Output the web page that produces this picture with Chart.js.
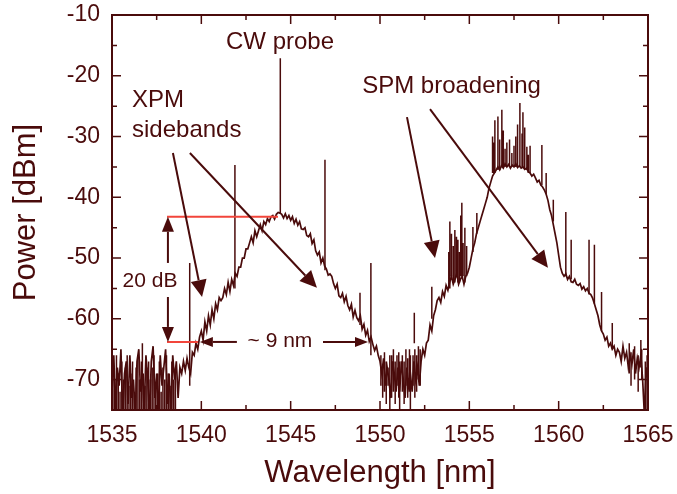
<!DOCTYPE html>
<html>
<head>
<meta charset="utf-8">
<script src="https://cdn.jsdelivr.net/npm/chart.js@4.4.0/dist/chart.umd.min.js"></script>
<style>
  body { margin: 0; background: #fff; }
  #wrap { width: 677px; height: 494px; }
</style>
</head>
<body>
<div id="wrap"><canvas id="myChart"></canvas></div>
<script>
// spectrum, every 0.1 nm
var wavelength = [
  1535.0, 1535.1, 1535.2, 1535.3, 1535.4, 1535.5, 1535.6, 1535.7, 1535.8, 1535.9,
  1536.0, 1536.1, 1536.2, 1536.3, 1536.4, 1536.5, 1536.6, 1536.7, 1536.8, 1536.9,
  1537.0, 1537.1, 1537.2, 1537.3, 1537.4, 1537.5, 1537.6, 1537.7, 1537.8, 1537.9,
  1538.0, 1538.1, 1538.2, 1538.3, 1538.4, 1538.5, 1538.6, 1538.7, 1538.8, 1538.9,
  1539.0, 1539.1, 1539.2, 1539.3, 1539.4, 1539.5, 1539.6, 1539.7, 1539.8, 1539.9,
  1540.0, 1540.1, 1540.2, 1540.3, 1540.4, 1540.5, 1540.6, 1540.7, 1540.8, 1540.9,
  1541.0, 1541.1, 1541.2, 1541.3, 1541.4, 1541.5, 1541.6, 1541.7, 1541.8, 1541.9,
  1542.0, 1542.1, 1542.2, 1542.3, 1542.4, 1542.5, 1542.6, 1542.7, 1542.8, 1542.9,
  1543.0, 1543.1, 1543.2, 1543.3, 1543.4, 1543.5, 1543.6, 1543.7, 1543.8, 1543.9,
  1544.0, 1544.1, 1544.2, 1544.3, 1544.4, 1544.5, 1544.6, 1544.7, 1544.8, 1544.9,
  1545.0, 1545.1, 1545.2, 1545.3, 1545.4, 1545.5, 1545.6, 1545.7, 1545.8, 1545.9,
  1546.0, 1546.1, 1546.2, 1546.3, 1546.4, 1546.5, 1546.6, 1546.7, 1546.8, 1546.9,
  1547.0, 1547.1, 1547.2, 1547.3, 1547.4, 1547.5, 1547.6, 1547.7, 1547.8, 1547.9,
  1548.0, 1548.1, 1548.2, 1548.3, 1548.4, 1548.5, 1548.6, 1548.7, 1548.8, 1548.9,
  1549.0, 1549.1, 1549.2, 1549.3, 1549.4, 1549.5, 1549.6, 1549.7, 1549.8, 1549.9,
  1550.0, 1550.1, 1550.2, 1550.3, 1550.4, 1550.5, 1550.6, 1550.7, 1550.8, 1550.9,
  1551.0, 1551.1, 1551.2, 1551.3, 1551.4, 1551.5, 1551.6, 1551.7, 1551.8, 1551.9,
  1552.0, 1552.1, 1552.2, 1552.3, 1552.4, 1552.5, 1552.6, 1552.7, 1552.8, 1552.9,
  1553.0, 1553.1, 1553.2, 1553.3, 1553.4, 1553.5, 1553.6, 1553.7, 1553.8, 1553.9,
  1554.0, 1554.1, 1554.2, 1554.3, 1554.4, 1554.5, 1554.6, 1554.7, 1554.8, 1554.9,
  1555.0, 1555.1, 1555.2, 1555.3, 1555.4, 1555.5, 1555.6, 1555.7, 1555.8, 1555.9,
  1556.0, 1556.1, 1556.2, 1556.3, 1556.4, 1556.5, 1556.6, 1556.7, 1556.8, 1556.9,
  1557.0, 1557.1, 1557.2, 1557.3, 1557.4, 1557.5, 1557.6, 1557.7, 1557.8, 1557.9,
  1558.0, 1558.1, 1558.2, 1558.3, 1558.4, 1558.5, 1558.6, 1558.7, 1558.8, 1558.9,
  1559.0, 1559.1, 1559.2, 1559.3, 1559.4, 1559.5, 1559.6, 1559.7, 1559.8, 1559.9,
  1560.0, 1560.1, 1560.2, 1560.3, 1560.4, 1560.5, 1560.6, 1560.7, 1560.8, 1560.9,
  1561.0, 1561.1, 1561.2, 1561.3, 1561.4, 1561.5, 1561.6, 1561.7, 1561.8, 1561.9,
  1562.0, 1562.1, 1562.2, 1562.3, 1562.4, 1562.5, 1562.6, 1562.7, 1562.8, 1562.9,
  1563.0, 1563.1, 1563.2, 1563.3, 1563.4, 1563.5, 1563.6, 1563.7, 1563.8, 1563.9,
  1564.0, 1564.1, 1564.2, 1564.3, 1564.4, 1564.5, 1564.6, 1564.7, 1564.8, 1564.9,
  1565.0
];

var power = [
  -72, -66, -75, -68, -71, -65, -76, -69, -67, -74,
  -66, -73, -70, -76, -67, -65, -72, -69, -75, -66,
  -70, -76, -67, -64.5, -73, -69, -76, -66, -71, -68,
  -65, -74, -69, -76, -66, -70, -67, -73, -68, -69,
  -67, -68.5, -66.5, -68, -69, -65.5, -66, -64, -65, -63,
  -62, -63.5, -60.5, -62, -59.5, -61, -58.5, -60, -57.5, -58.5,
  -56.5, -57, -56.5, -55, -56, -54, -55.5, -53.5, -54.5, -52.5,
  -53, -51.5, -51.5, -50, -50, -48.5, -48.5, -47.5, -46.5, -47.5,
  -45.5, -46.5, -45.5, -44.5, -45.5, -44, -44.5, -43.5, -44, -43.2,
  -43, -43.6, -42.8, -42.5, -42.6, -42.8, -43.4, -42.7, -43.5, -43,
  -43.8, -43.2, -44.3, -43.6, -44.6, -44, -45.2, -45.3, -45, -46.3,
  -46.5, -46, -47.6, -47, -48.8, -49.5, -49, -50.8, -50, -51.3,
  -51.8, -52.8, -52.6, -53, -54.2, -55, -54.3, -56.2, -56.5, -55.8,
  -57.2, -56.3, -57.8, -58.5, -57.6, -59.7, -58.6, -59.8, -60.3, -59.5,
  -61.7, -60.9, -62.7, -61.9, -63.7, -63, -64.2, -65.2, -64.5, -66,
  -67, -69, -66.5, -71, -68, -70, -73, -67, -69, -72,
  -68, -72, -67, -70, -73, -68, -71, -69, -72, -67,
  -70, -68, -71, -67, -65, -66, -64, -63.5, -61, -62,
  -59.5, -58.5, -57, -56.5, -57.3, -55.5, -56.3, -54.5, -55.3, -54,
  -53, -54.3, -53.5, -52.5, -54.3, -53.5, -53, -54.3, -53, -52.5,
  -51.5, -50, -48.5, -47.5, -46, -45, -44, -43, -42, -41,
  -40, -38.5, -37.5, -36.5, -36, -35.5, -35, -35.5, -34.8, -35.2,
  -34.5, -35, -34.6, -35.2, -34.7, -35, -34.5, -35.1, -34.8, -35.2,
  -35, -35.4, -35.2, -35.8, -36, -36.5, -36.2, -36.8, -37.5, -37.2,
  -38, -38.3, -38.8, -39.5, -40.5, -42, -43, -44.5, -46, -47.5,
  -49.5, -51.5, -52.5, -53, -52.6, -53.5, -53, -53.9, -54, -53.5,
  -54.3, -54.5, -54.2, -55.1, -54.7, -55.4, -55, -55.8, -56, -56.6,
  -57.5, -58.5, -59.5, -61, -62, -62.5, -63.5, -63, -64.5, -64,
  -65, -64.5, -66, -65, -65.5, -67, -64.5, -66.5, -65.5, -68,
  -66, -67.5, -65, -69, -66.5, -68, -66, -70, -76, -68,
  -70
];

// narrow lines (spectral peaks and dips): from base to top
var spikeWl   = [1536.7, 1539.35, 1541.88, 1544.42, 1546.92, 1548.88, 1549.49, 1550.55, 1551.1, 1551.7, 1551.92, 1552.9,
                 1553.85, 1553.91, 1554.0, 1554.1, 1554.19, 1554.28, 1554.36, 1554.45, 1554.52, 1554.58, 1554.65, 1554.75, 1554.85,
                 1555.2, 1555.42, 1556.3, 1556.35, 1556.43, 1556.6, 1556.7, 1556.82, 1556.9, 1557.0,
                 1557.1, 1557.25, 1557.38, 1557.5, 1557.6, 1557.7, 1557.83, 1557.95, 1558.0, 1558.1, 1558.22, 1558.3, 1558.4,
                 1559.06, 1559.3, 1559.7, 1560.4, 1560.7, 1561.7, 1562.0, 1562.4, 1563.0, 1564.6];
var spikeBase = [-70, -71, -55, -42.6, -52, -61, -66, -66, -67, -66, -64, -60,
                 -55, -55, -53, -54, -54, -53, -54, -54, -53, -53, -53, -54, -53,
                 -49, -46, -36, -36, -36, -35.5, -35.5, -35, -35, -35,
                 -35, -35, -35, -35, -35, -35, -35, -35, -35, -35.5, -35.5, -36, -36,
                 -38, -39.5, -44, -53, -53.5, -56, -57.5, -62, -65, -68];
var spikeTop  = [-64, -50.8, -34.7, -17.1, -33.8, -55.7, -50.8, -76, -76, -76, -59, -54.7,
                 -49, -44, -46, -48, -45.4, -46.5, -47, -49, -43, -40.9, -47.5, -45, -48,
                 -44.9, -42.6, -30, -31, -27.3, -26.7, -30.5, -25.6, -29, -32,
                 -31, -30.5, -32.7, -31.5, -30, -28, -24.5, -29.5, -26, -28.5, -31.7, -33, -31.5,
                 -31.4, -36, -40.4, -42.4, -47, -47, -47.8, -55.6, -60.7, -63.5];

// noise floor strokes: from floorBase up to floorTop
var floorWl = [
  1535.05, 1535.15, 1535.25, 1535.35, 1535.45, 1535.55, 1535.65, 1535.75, 1535.85, 1535.95,
  1536.05, 1536.15, 1536.25, 1536.35, 1536.45, 1536.55, 1536.65, 1536.75, 1536.85, 1536.95,
  1537.05, 1537.15, 1537.25, 1537.35, 1537.45, 1537.55, 1537.65, 1537.75, 1537.85, 1537.95,
  1538.05, 1538.15, 1538.25, 1538.35, 1538.45, 1538.55,
  1550.05, 1550.15, 1550.25, 1550.35, 1550.45, 1550.65, 1550.75, 1550.85, 1550.95,
  1551.05, 1551.25, 1551.35, 1551.45, 1551.55, 1551.65, 1551.85, 1551.95, 1552.05, 1552.15, 1552.25,
  1563.95, 1564.05, 1564.25, 1564.45, 1564.65, 1564.85, 1564.95
];
var floorBase = [
  -76, -76, -76, -76, -76, -76, -76, -76, -76, -76,
  -76, -76, -76, -76, -76, -76, -76, -76, -76, -76,
  -76, -76, -76, -76, -76, -76, -76, -76, -76, -76,
  -76, -76, -76, -76, -76, -76,
  -71, -73, -72, -74, -71, -73, -72, -74, -71,
  -73, -72, -74, -71, -73, -72, -71, -73, -72, -70, -71,
  -69, -71, -70, -72, -70, -76, -76
];
var floorTop = [
  -68, -70, -66, -69, -72, -67, -70, -68, -66, -71,
  -69, -67, -72, -68, -66, -70, -67, -69, -71, -68,
  -67, -70, -68, -66, -71, -69, -67, -72, -68, -70,
  -66, -69, -71, -67, -70, -68,
  -66, -68, -65.5, -67, -68, -66, -65, -67, -66,
  -65.5, -66, -67, -65, -66.5, -65, -66, -65, -66, -64.5, -65,
  -64, -65.5, -64.5, -66, -65, -67, -66
];

var xTicks = [1535, 1540, 1545, 1550, 1555, 1560, 1565];
var yTicks = [-70, -60, -50, -40, -30, -20, -10];

var dark = '#4a0b0b';
var red = '#f2453b';
var fontFamily = '"Liberation Sans", Arial, Helvetica, sans-serif';

function buildSpectrum() {
  var pts = [];
  for (var i = 0; i < wavelength.length; i++) {
    pts.push({x: wavelength[i], y: power[i]});
  }
  return pts;
}

function buildStrokes(xs, from, to) {
  var pts = [];
  for (var i = 0; i < xs.length; i++) {
    pts.push({x: xs[i], y: from[i]});
    pts.push({x: xs[i], y: to[i]});
    pts.push({x: xs[i], y: null});
  }
  return pts;
}

function drawArrow(ctx, x1, y1, x2, y2, len, half) {
  var ang = Math.atan2(y2 - y1, x2 - x1);
  var bx = x2 - len * Math.cos(ang);
  var by = y2 - len * Math.sin(ang);
  ctx.beginPath();
  ctx.moveTo(x1, y1);
  ctx.lineTo(bx, by);
  ctx.stroke();
  ctx.beginPath();
  ctx.moveTo(x2, y2);
  ctx.lineTo(bx + half * Math.sin(ang), by - half * Math.cos(ang));
  ctx.lineTo(bx - half * Math.sin(ang), by + half * Math.cos(ang));
  ctx.closePath();
  ctx.fill();
}

// frame, inward ticks and the annotations
var notesPlugin = {
  id: 'notes',
  afterDatasetsDraw: function(chart) {
    var ctx = chart.ctx;
    var a = chart.chartArea;
    var sx = chart.scales.x;
    var sy = chart.scales.y;
    function X(v) { return sx.getPixelForValue(v); }
    function Y(v) { return sy.getPixelForValue(v); }

    ctx.save();
    ctx.strokeStyle = dark;
    ctx.fillStyle = dark;

    // ticks
    ctx.lineWidth = 1.5;
    for (var w = 1535; w <= 1565; w += 2.5) {
      var L = (w % 5 === 0) ? 9 : 5;
      ctx.beginPath();
      ctx.moveTo(X(w), a.bottom); ctx.lineTo(X(w), a.bottom - L);
      ctx.moveTo(X(w), a.top); ctx.lineTo(X(w), a.top + L);
      ctx.stroke();
    }
    for (var p = -75; p <= -10; p += 5) {
      var M = (p % 10 === 0) ? 9 : 5;
      ctx.beginPath();
      ctx.moveTo(a.left, Y(p)); ctx.lineTo(a.left + M, Y(p));
      ctx.moveTo(a.right, Y(p)); ctx.lineTo(a.right - M, Y(p));
      ctx.stroke();
    }
    ctx.lineWidth = 2;
    ctx.strokeRect(a.left, a.top, a.right - a.left, a.bottom - a.top);

    // red level lines
    ctx.strokeStyle = red;
    ctx.lineWidth = 2;
    ctx.beginPath();
    ctx.moveTo(X(1538.08), Y(-43.2)); ctx.lineTo(X(1544.29), Y(-43.2));
    ctx.moveTo(X(1538.08), Y(-63.8)); ctx.lineTo(X(1539.81), Y(-63.8));
    ctx.stroke();

    // arrows
    ctx.strokeStyle = dark;
    ctx.lineWidth = 2;
    drawArrow(ctx, X(1538.41), Y(-32.7), X(1540.04), Y(-56.4), 17, 8);
    drawArrow(ctx, X(1539.36), Y(-32.7), X(1546.47), Y(-54.9), 17, 8);
    drawArrow(ctx, X(1551.51), Y(-26.8), X(1553.08), Y(-50.0), 17, 8);
    drawArrow(ctx, X(1552.80), Y(-25.5), X(1559.40), Y(-51.6), 17, 8);
    drawArrow(ctx, X(1538.13), Y(-50.8), X(1538.13), Y(-43.2), 15, 6);
    drawArrow(ctx, X(1538.13), Y(-56.4), X(1538.13), Y(-63.8), 15, 6);
    drawArrow(ctx, X(1541.99), Y(-63.8), X(1539.92), Y(-63.8), 13, 5);
    drawArrow(ctx, X(1546.81), Y(-63.8), X(1549.33), Y(-63.8), 13, 5);

    // labels
    ctx.textBaseline = 'alphabetic';
    ctx.textAlign = 'left';
    ctx.font = '24px ' + fontFamily;
    ctx.fillText('CW probe', X(1541.38), Y(-15.6));
    ctx.fillText('XPM', X(1536.12), Y(-25.1));
    ctx.fillText('sidebands', X(1536.12), Y(-30.07));
    ctx.fillText('SPM broadening', X(1549.0), Y(-22.8));
    ctx.font = '21px ' + fontFamily;
    ctx.textAlign = 'center';
    ctx.textBaseline = 'middle';
    ctx.fillText('20 dB', X(1537.13), Y(-53.75));
    ctx.fillText('~ 9 nm', X(1544.4), Y(-63.6));
    ctx.restore();
  }
};

function getChart() {
  var ctx = document.getElementById('myChart').getContext('2d');
  var chart = new Chart(ctx, {
    type: 'line',
    data: {
      datasets: [{
        data: buildSpectrum(),
        borderColor: dark,
        borderWidth: 1.7,
        pointRadius: 0,
        tension: 0,
        clip: 0
      }, {
        data: buildStrokes(spikeWl, spikeBase, spikeTop),
        borderColor: dark,
        borderWidth: 1.5,
        pointRadius: 0,
        spanGaps: false,
        clip: 0
      }, {
        data: buildStrokes(floorWl, floorBase, floorTop),
        borderColor: dark,
        borderWidth: 1.5,
        pointRadius: 0,
        spanGaps: false,
        clip: 0
      }]
    },
    options: {
      responsive: true,
      maintainAspectRatio: false,
      animation: false,
      events: [],
      layout: { padding: { top: 15, right: 29, left: 0, bottom: 0 } },
      plugins: { legend: { display: false }, tooltip: { enabled: false } },
      scales: {
        x: {
          type: 'linear',
          min: 1535,
          max: 1565,
          afterBuildTicks: function(s) { s.ticks = xTicks.map(function(v) { return {value: v}; }); },
          afterFit: function(s) { s.height = 84; s.paddingLeft = 0; s.paddingRight = 0; },
          grid: { display: false, drawTicks: false },
          border: { display: false },
          ticks: { color: dark, padding: 12, font: { family: fontFamily, size: 23 }, maxRotation: 0, callback: function(v) { return String(v); } },
          title: { display: true, text: 'Wavelength [nm]', color: dark, padding: { top: 0, bottom: 2 }, font: { family: fontFamily, size: 31 } }
        },
        y: {
          min: -75,
          max: -10,
          afterBuildTicks: function(s) { s.ticks = yTicks.map(function(v) { return {value: v}; }); },
          afterFit: function(s) { s.width = 112; s.paddingTop = 0; s.paddingBottom = 0; },
          grid: { display: false, drawTicks: false },
          border: { display: false },
          ticks: { color: dark, padding: 12, font: { family: fontFamily, size: 23 }, callback: function(v) { return String(v); } },
          title: { display: true, text: 'Power [dBm]', color: dark, padding: { top: 8, bottom: 0 }, font: { family: fontFamily, size: 31 } }
        }
      }
    },
    plugins: [notesPlugin]
  });
}

getChart();
</script>
</body>
</html>
